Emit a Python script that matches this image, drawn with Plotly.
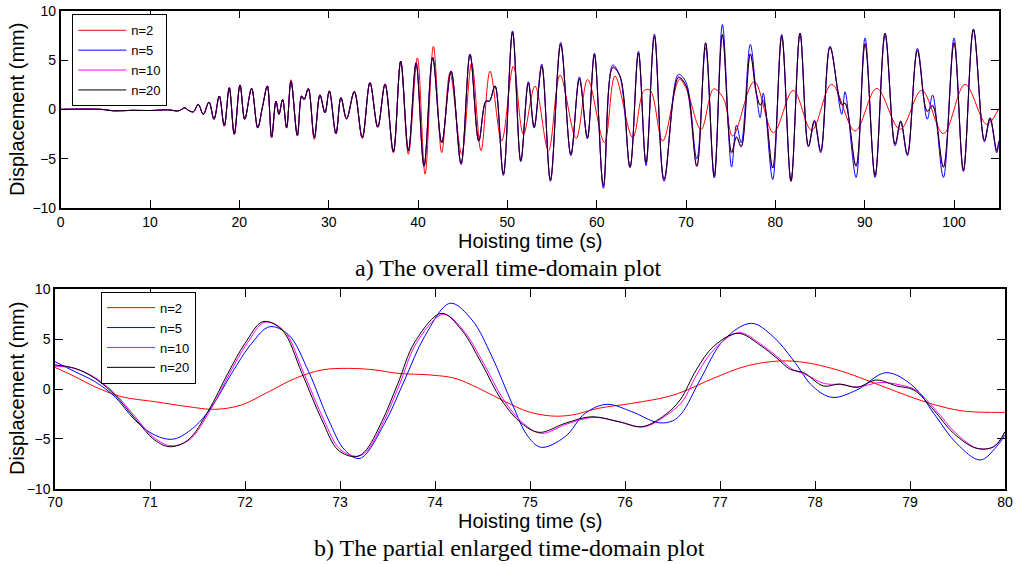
import plotly.graph_objects as go

# ---------------- data: top panel (0-105 s), (time s, displacement mm) ----------------
top_n20 = [
    (0, 0), (4.5, 0), (6.0, -0.15), (8.0, -0.1), (10.0, -0.12), (12.0, -0.05), (13.2, -0.15), (13.9, 0.15), (14.3, -0.1), (14.85, -0.25),
    (15.4, 0.5), (15.96, -0.5), (16.6, 0.74), (17.16, -1.0), (17.75, 1.35), (18.31, -1.68), (18.87, 2.19), (19.43, -2.5), (20.07, 2.46), (20.6, -1.0),
    (21.37, 2.12), (22.05, -1.85), (22.6, 0.3), (23.13, 2.36), (23.61, -2.8), (24.1, 0.84), (24.43, -0.5), (24.84, 1.0), (25.29, -1.85), (25.78, 2.86),
    (26.49, -2.63), (26.97, 1.35), (27.25, 1.0), (27.72, 2.09), (28.39, -2.86), (29.02, 1.45), (29.58, -0.34), (30.07, 1.85), (30.81, -2.46), (31.37, 1.18),
    (32.0, -0.94), (32.87, 1.78), (33.76, -2.86), (34.62, 2.69), (35.49, -1.78), (36.31, 2.53), (37.24, -4.31), (38.06, 4.88), (38.92, -4.2), (39.78, 4.71),
    (40.67, -5.72), (41.64, 5.22), (42.65, -3.37), (43.7, 3.87), (44.82, -5.49), (45.82, 5.56), (46.8, -3.2), (47.6, 0.84), (48.0, 0.84), (48.62, 2.36),
    (49.55, -6.57), (50.58, 7.85), (51.5, -5.22), (52.35, 2.69), (53.0, -1.8), (53.85, 4.38), (54.82, -7.15), (55.97, 6.6), (57.11, -4.55), (58.06, 3.1),
    (58.96, -2.86), (59.74, 5.56), (60.75, -7.74), (61.79, 4.21), (62.61, 3.37), (63.73, -5.89), (64.67, 5.72), (65.52, -5.39), (66.46, 7.41), (67.54, -7.07),
    (69.14, 3.2), (70.0, 2.41), (71.21, -5.79), (72.19, 6.76), (73.16, -6.79), (74.07, 7.59), (75.1, -4.35), (75.65, -2.78), (76.18, -3.78), (77.19, 5.59),
    (77.88, 1.64), (78.3, 0.45), (78.65, 0.9), (79.7, -5.95), (80.71, 7.41), (81.75, -7.24), (82.76, 7.74), (83.7, -3.7), (84.37, -1.1), (85.08, -4.2),
    (86.12, 6.3), (87.43, 0.5), (87.8, 0.6), (89.03, -5.72), (90.04, 6.63), (91.16, -6.73), (92.28, 7.74), (93.4, -3.54), (94.03, -1.18), (94.78, -4.55),
    (95.9, 5.96), (97.0, -0.17), (97.6, 0.34), (98.81, -5.82), (100.0, 6.73), (101.05, -6.16), (102.17, 8.15), (103.4, -3.13), (104.03, -0.84), (104.78, -4.2),
    (105.0, -3.2),
]

top_n10 = [
    (0, 0), (4.5, 0), (6.0, -0.15), (8.0, -0.1), (10.0, -0.12), (12.0, -0.05), (13.2, -0.15), (13.9, 0.15), (14.3, -0.1), (14.85, -0.25),
    (15.4, 0.5), (15.96, -0.5), (16.6, 0.74), (17.16, -1.0), (17.75, 1.35), (18.31, -1.7), (18.87, 2.2), (19.43, -2.55), (20.07, 2.46), (20.6, -1.0),
    (21.37, 2.1), (22.05, -1.9), (22.6, 0.3), (23.13, 2.36), (23.61, -2.85), (24.1, 0.84), (24.43, -0.5), (24.84, 1.0), (25.29, -1.9), (25.78, 2.9),
    (26.49, -2.65), (26.97, 1.35), (27.25, 1.0), (27.72, 2.1), (28.39, -2.9), (29.02, 1.45), (29.58, -0.34), (30.07, 1.85), (30.81, -2.5), (31.37, 1.18),
    (32.0, -0.95), (32.87, 1.78), (33.76, -2.9), (34.62, 2.7), (35.49, -1.8), (36.31, 2.55), (37.24, -4.35), (38.06, 4.9), (38.92, -4.25), (39.78, 4.75),
    (40.67, -5.8), (41.64, 5.25), (42.65, -3.4), (43.7, 3.9), (44.82, -5.55), (45.82, 5.6), (46.8, -3.25), (47.6, 0.8), (48.0, 0.85), (48.62, 2.35),
    (49.55, -6.62), (50.58, 7.8), (51.5, -5.25), (52.35, 2.7), (53.0, -1.82), (53.85, 4.45), (54.82, -7.2), (55.97, 6.62), (57.11, -4.6), (58.06, 3.15),
    (58.96, -2.9), (59.74, 5.6), (60.75, -7.8), (61.79, 4.3), (62.61, 3.35), (63.73, -5.9), (64.67, 5.75), (65.52, -5.45), (66.46, 7.5), (67.54, -7.15),
    (69.14, 3.3), (70.0, 2.3), (71.21, -5.7), (72.19, 6.7), (73.16, -6.75), (74.07, 7.5), (75.1, -4.45), (75.65, -2.85), (76.18, -3.8), (77.19, 5.65),
    (77.88, 1.45), (78.3, 0.45), (78.65, 0.65), (79.7, -5.95), (80.71, 7.45), (81.75, -7.3), (82.76, 7.7), (83.7, -3.75), (84.37, -1.15), (85.08, -4.3),
    (86.12, 6.35), (87.43, 0.4), (87.8, 0.65), (89.03, -5.8), (90.04, 6.7), (91.16, -6.8), (92.28, 7.7), (93.4, -3.6), (94.03, -1.2), (94.78, -4.6),
    (95.9, 6.0), (97.0, -0.25), (97.6, 0.45), (98.81, -5.9), (100.0, 6.8), (101.05, -6.25), (102.17, 8.1), (103.4, -3.2), (104.03, -0.9), (104.78, -4.25),
    (105.0, -3.3),
]

top_n5 = [
    (0, 0), (4.5, 0), (6.0, -0.15), (8.0, -0.1), (10.0, -0.12), (12.0, -0.05), (13.2, -0.15), (13.9, 0.15), (14.3, -0.1), (14.85, -0.25),
    (15.4, 0.5), (15.96, -0.5), (16.6, 0.74), (17.16, -1.0), (17.75, 1.35), (18.31, -1.68), (18.87, 2.19), (19.43, -2.5), (20.07, 2.46), (20.6, -1.0),
    (21.37, 2.12), (22.05, -1.85), (22.6, 0.3), (23.13, 2.36), (23.61, -2.8), (24.1, 0.84), (24.43, -0.5), (24.84, 1.0), (25.29, -1.85), (25.78, 2.86),
    (26.49, -2.63), (26.97, 1.35), (27.25, 1.0), (27.72, 2.09), (28.39, -2.86), (29.02, 1.45), (29.58, -0.34), (30.07, 1.85), (30.81, -2.46), (31.37, 1.18),
    (32.0, -0.94), (32.87, 1.78), (33.76, -2.86), (34.62, 2.69), (35.49, -1.78), (36.31, 2.53), (37.24, -4.31), (38.06, 4.88), (38.92, -4.2), (39.78, 4.71),
    (40.67, -5.8), (41.64, 5.3), (42.65, -3.4), (43.7, 3.9), (44.82, -5.6), (45.82, 5.6), (46.8, -3.2), (47.6, 0.84), (48.0, 0.84), (48.62, 2.4),
    (49.55, -6.7), (50.58, 7.95), (51.5, -5.3), (52.35, 2.8), (53.0, -1.9), (53.85, 4.6), (54.82, -7.3), (55.97, 6.8), (57.11, -4.7), (58.06, 3.3),
    (58.96, -3.0), (59.74, 5.7), (60.75, -8.0), (61.79, 4.5), (62.61, 3.3), (63.73, -5.8), (64.67, 5.9), (65.52, -5.7), (66.46, 7.64), (67.54, -7.3),
    (69.14, 3.54), (70.0, 2.74), (71.21, -5.02), (72.19, 6.25), (73.16, -6.96), (74.07, 8.6), (75.1, -5.85), (75.65, -1.6), (76.18, -3.38), (77.19, 6.59),
    (77.88, 1.5), (78.3, -0.84), (78.65, 1.64), (79.7, -7.12), (80.71, 7.6), (81.75, -7.3), (82.76, 7.7), (83.7, -3.8), (84.37, -1.3), (85.08, -4.4),
    (86.12, 6.4), (87.43, -0.5), (87.8, 1.78), (89.03, -6.9), (90.04, 7.24), (91.16, -6.9), (92.28, 7.5), (93.4, -3.7), (94.03, -1.3), (94.78, -4.7),
    (95.9, 6.2), (97.0, -1.0), (97.6, 1.45), (98.81, -6.9), (100.0, 7.24), (101.05, -6.3), (102.17, 8.0), (103.4, -3.3), (104.03, -1.0), (104.78, -4.4),
    (105.0, -3.5),
]

top_n2 = [
    (0, 0), (4.5, 0), (6.0, -0.15), (8.0, -0.1), (10.0, -0.12), (12.0, -0.05), (13.2, -0.15), (13.9, 0.15), (14.3, -0.1), (14.85, -0.25),
    (15.4, 0.5), (15.96, -0.5), (16.6, 0.74), (17.16, -1.0), (17.75, 1.35), (18.31, -1.7), (18.87, 2.2), (19.43, -2.55), (20.07, 2.5), (20.6, -1.0),
    (21.37, 2.15), (22.05, -1.9), (22.6, 0.3), (23.13, 2.4), (23.61, -2.9), (24.1, 0.84), (24.43, -0.5), (24.84, 1.0), (25.29, -1.9), (25.78, 3.0),
    (26.49, -2.7), (26.97, 1.35), (27.25, 1.0), (27.72, 2.15), (28.39, -3.05), (29.02, 1.5), (29.58, -0.34), (30.07, 1.9), (30.81, -2.5), (31.37, 1.2),
    (32.0, -1.0), (32.87, 1.85), (33.76, -2.95), (34.62, 2.75), (35.49, -1.85), (36.31, 2.6), (37.24, -4.4), (38.06, 4.9), (38.92, -4.55), (39.93, 5.22),
    (40.79, -6.57), (41.72, 6.4), (42.65, -4.38), (43.58, 3.7), (44.89, -4.55), (46.0, 4.7), (47.05, -4.2), (48.06, 3.87), (49.36, -3.2), (50.67, 4.38),
    (51.79, -2.53), (53.1, 2.36), (54.6, -4.2), (55.9, 3.47), (57.7, -2.95), (58.99, 3.03), (60.86, -3.37), (62.05, 3.37), (64.03, -2.86), (65.3, 1.92),
    (66.0, 1.92), (67.39, -3.2), (69.26, 3.03), (70.0, 2.17), (71.68, -2.04), (73.09, 2.07), (74.21, 1.07), (75.23, -2.71), (77.63, 2.81), (79.78, -2.36),
    (82.0, 1.92), (84.07, -2.12), (86.31, 2.53), (88.92, -2.19), (91.34, 2.12), (93.96, -2.02), (96.38, 1.92), (98.81, -2.46), (101.23, 2.53), (103.66, -1.52),
    (105.0, 0.07),
]

# ---------------- data: bottom panel (70-80 s) ----------------
bot_n20 = [
    (70.0, 2.41), (70.21, 2.07), (70.42, 1.07), (70.63, -0.6), (70.84, -2.94), (71.05, -5.12), (71.21, -5.79), (71.4, -5.12), (71.61, -2.27), (71.82, 1.57),
    (72.0, 4.58), (72.19, 6.76), (72.39, 5.92), (72.6, 1.57), (72.81, -3.11), (72.98, -6.12), (73.16, -6.79), (73.26, -6.29), (73.44, -3.28), (73.61, 0.57),
    (73.79, 4.75), (74.07, 7.59), (74.28, 5.92), (74.49, 2.58), (74.7, -1.1), (74.91, -3.44), (75.1, -4.35), (75.37, -3.44), (75.65, -2.78), (75.93, -3.28),
    (76.18, -3.78), (76.42, -2.61), (76.58, -1.1), (76.75, 1.91), (76.93, 4.25), (77.19, 5.59), (77.42, 4.41), (77.6, 3.08), (77.74, 1.97), (77.88, 1.64),
    (78.09, 0.3), (78.26, 0.5), (78.44, 0.17), (78.65, 0.9), (78.86, 0.3), (79.04, -0.1), (79.25, -2.11), (79.46, -4.45), (79.7, -5.95), (79.88, -5.79),
    (80.0, -4.28),
]

bot_n10 = [
    (70.0, 2.3), (70.21, 2.05), (70.42, 1.15), (70.63, -0.45), (70.84, -2.75), (71.05, -4.95), (71.23, -5.7), (71.42, -5.05), (71.63, -2.2), (71.84, 1.6),
    (72.02, 4.55), (72.21, 6.7), (72.41, 5.85), (72.62, 1.55), (72.83, -3.1), (73.0, -6.05), (73.18, -6.75), (73.28, -6.25), (73.46, -3.25), (73.63, 0.55),
    (73.81, 4.7), (74.09, 7.5), (74.3, 5.85), (74.51, 2.6), (74.72, -1.05), (74.93, -3.45), (75.12, -4.45), (75.39, -3.5), (75.67, -2.85), (75.95, -3.3),
    (76.2, -3.8), (76.44, -2.6), (76.6, -1.3), (76.77, 1.7), (76.95, 4.1), (77.2, 5.65), (77.43, 4.5), (77.62, 3.1), (77.76, 2.0), (77.9, 1.45),
    (78.1, 0.55), (78.27, 0.45), (78.45, 0.2), (78.68, 0.65), (78.9, 0.4), (79.06, -0.1), (79.27, -2.1), (79.48, -4.4), (79.71, -5.95), (79.89, -5.75),
    (80.0, -4.3),
]

bot_n5 = [
    (70.0, 2.74), (70.21, 1.74), (70.42, 0.74), (70.63, -0.77), (70.84, -3.11), (71.05, -4.62), (71.25, -5.02), (71.47, -3.78), (71.65, -1.77), (71.86, 1.57),
    (72.07, 4.58), (72.26, 6.25), (72.46, 5.42), (72.67, 1.74), (72.88, -3.11), (73.05, -6.12), (73.21, -6.96), (73.47, -3.44), (73.68, 0.9), (73.89, 5.25),
    (74.16, 8.6), (74.39, 6.92), (74.6, 3.24), (74.81, -1.44), (74.98, -4.78), (75.12, -5.85), (75.37, -4.78), (75.58, -2.44), (75.81, -1.54), (76.07, -2.27),
    (76.35, -3.38), (76.5, -3.2), (76.6, -2.4), (76.79, 0.9), (77.04, 4.92), (77.33, 6.59), (77.56, 5.25), (77.77, 2.91), (77.98, 0.23), (78.18, -0.84),
    (78.44, -0.1), (78.75, 1.64), (79.04, 0.23), (79.25, -2.44), (79.49, -5.45), (79.74, -7.12), (79.91, -5.79), (80.0, -4.62),
]

bot_n2 = [
    (70.0, 2.17), (70.21, 1.24), (70.42, 0.23), (70.7, -0.77), (71.05, -1.27), (71.4, -1.77), (71.68, -2.04), (71.96, -1.61), (72.25, -0.27), (72.53, 1.07),
    (72.81, 1.91), (73.09, 2.07), (73.37, 1.91), (73.61, 1.57), (73.96, 1.4), (74.21, 1.07), (74.46, 0.07), (74.74, -1.27), (74.98, -2.27), (75.23, -2.71),
    (75.44, -2.61), (75.72, -1.94), (76.07, -1.44), (76.42, -0.84), (76.6, -0.3), (76.93, 1.07), (77.28, 2.31), (77.63, 2.81), (77.91, 2.64), (78.26, 1.84),
    (78.54, 0.9), (78.86, -0.27), (79.21, -1.44), (79.56, -2.21), (80.0, -2.34),
]

series_names = ["n=2", "n=5", "n=10", "n=20"]
series_colors = ["#ff0000", "#0000ff", "#ff00ff", "#000000"]
top_xticks = [0, 10, 20, 30, 40, 50, 60, 70, 80, 90, 100]
bot_xticks = [70, 71, 72, 73, 74, 75, 76, 77, 78, 79, 80]
y_ticks = [-10, -5, 0, 5, 10]

W, H = 1023, 564

fig = go.Figure()

top_sets = [top_n2, top_n5, top_n10, top_n20]
bot_sets = [bot_n2, bot_n5, bot_n10, bot_n20]

# bottom panel uses the primary legend, top panel the second one
for name, color, data in zip(series_names, series_colors, bot_sets):
    fig.add_trace(go.Scatter(
        x=[p[0] for p in data], y=[p[1] for p in data], mode="lines", name=name,
        line=dict(color=color, width=1, shape="spline", smoothing=1.0),
        xaxis="x2", yaxis="y2", legend="legend"))

for name, color, data in zip(series_names, series_colors, top_sets):
    fig.add_trace(go.Scatter(
        x=[p[0] for p in data], y=[p[1] for p in data], mode="lines", name=name,
        line=dict(color=color, width=1, shape="spline", smoothing=1.0),
        xaxis="x", yaxis="y", legend="legend2"))

tickfont = dict(family="Liberation Sans Narrow, Arial Narrow, Liberation Sans, Arial, sans-serif", size=14, color="black")
axis_common = dict(showline=True, linecolor="black", linewidth=1.5, mirror="ticks", ticks="inside",
                   ticklen=8, tickcolor="black", tickwidth=1, showgrid=False, zeroline=False,
                   tickfont=tickfont)

legend_font = dict(family="Arial, Liberation Sans, sans-serif", size=13, color="black")

fig.update_layout(
    width=W, height=H,
    margin=dict(l=0, r=0, t=0, b=0, autoexpand=False),
    paper_bgcolor="white", plot_bgcolor="white",
    showlegend=True,
    xaxis=dict(domain=[60.7 / W, 998.7 / W], range=[0, 105], tickvals=top_xticks, anchor="y", **axis_common),
    yaxis=dict(domain=[1 - 208 / H, 1 - 10.7 / H], range=[-10, 10], tickvals=y_ticks, anchor="x", **axis_common),
    xaxis2=dict(domain=[55 / W, 1005 / W], range=[70, 80], tickvals=bot_xticks, anchor="y2", **axis_common),
    yaxis2=dict(domain=[1 - 488.7 / H, 1 - 289.3 / H], range=[-10, 10], tickvals=y_ticks, anchor="x2", **axis_common),
    legend2=dict(x=72.3 / W, y=1 - 14.3 / H, xanchor="left", yanchor="top", bgcolor="white",
                 bordercolor="black", borderwidth=1, tracegroupgap=0, itemwidth=48, font=legend_font),
    legend=dict(x=101 / W, y=1 - 291.7 / H, xanchor="left", yanchor="top", bgcolor="white",
                bordercolor="black", borderwidth=1, tracegroupgap=0, itemwidth=48, font=legend_font),
)

title_font = dict(family="Arial, Liberation Sans, sans-serif", size=20, color="black")
cap_font = dict(family="Times New Roman, Liberation Serif, serif", size=24, color="black")

annos = [
    dict(text="Hoisting time (s)", x=529.7 / W, y=1 - 241 / H, font=title_font),
    dict(text="Hoisting time (s)", x=530 / W, y=1 - 521 / H, font=title_font),
    dict(text="Displacement (mm)", x=17 / W, y=1 - 110 / H, font=title_font, textangle=-90),
    dict(text="Displacement (mm)", x=17 / W, y=1 - 389 / H, font=title_font, textangle=-90),
    dict(text="a) The overall time-domain plot", x=508 / W, y=1 - 268 / H, font=cap_font),
    dict(text="b) The partial enlarged time-domain plot", x=509 / W, y=1 - 548 / H, font=cap_font),
]
for a in annos:
    fig.add_annotation(xref="paper", yref="paper", showarrow=False, xanchor="center", yanchor="middle", **a)

fig.write_html("out.html")
